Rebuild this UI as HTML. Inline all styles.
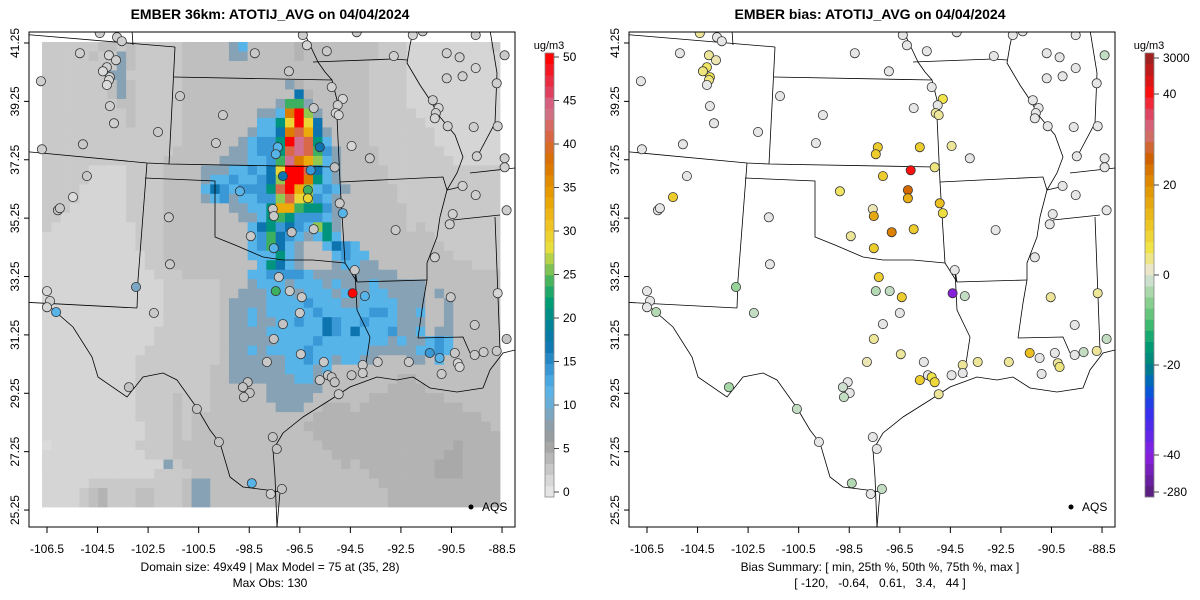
<!DOCTYPE html>
<html><head><meta charset="utf-8"><style>
html,body{margin:0;padding:0;background:#fff;width:1200px;height:600px;overflow:hidden}
svg{display:block;font-family:"Liberation Sans",Arial,sans-serif}
</style></head><body>
<svg id="chart" width="1200" height="600" viewBox="0 0 1200 600" xmlns="http://www.w3.org/2000/svg"></svg>
<script>
// ---------- data ----------
const gridSegments = [
["333333443433333","44444ab4","4444544444","444333","2222222223"],
["33333433a433333","44444aa4","4444544444","444333","2222222222"],
["33333333a433333","44444444","4444444444","443333","2222222222"],
["3333333aa333333","44444444","4444444444","443333","2222222222"],
["33333334a433333","44444444","444a544444","443333","2222222222"],
["33333334a433333","44444444","4444d54444","443333","2222222222"],
["333333334433333","44444444","44affa4444","443333","2222222222"],
["333333333433333","44444444","aabjmga444","443333","3222222222"],
["333333333433333","44444444","bbehmhd444","443333","3322222222"],
["333333333333333","4444444a","bbdjkida44","443333","3332222222"],
["333333333333333","444444ab","ccemlkeb44","443333","3332222222"],
["333333333333334","44444aab","cceklkfca4","444333","3333222222"],
["333333333333344","4444aaab","bcfljigba4","444333","3333322222"],
["333332222333344","44aaabbc","bdhmmkdba4","444433","3333333333"],
["333332222333344","44abbcbb","cdgmmjeba4","444433","3333333333"],
["333322222333344","44bdcbcc","cekmigbcba","444443","3333333333"],
["333322222333344","44abcabb","ccgkhgcba4","444443","3333333333"],
["333222222333344","44444aab","beiifeeca4","444444","3333333333"],
["332222222333344","444444aa","befecccba4","444444","3333333333"],
["322222222233344","4444444b","decdcbgea4","444444","3433333333"],
["222222222233344","4444444b","cfdcbabeb4","444444","4443333333"],
["222222222233344","4444444b","cfdba44bdc","b44444","4444333333"],
["222222222223344","4444444b","bbeba444bc","bb4444","4444433333"],
["222222222223334","44444444","bedba444ab","baa444","4444444333"],
["222222222222333","4444444b","bccccbaaaa","aaaaa4","4444444444"],
["222222222222233","3333444a","bbbabbbaba","aabaaa","aa44444444"],
["222222222222233","333344aa","abbbabbbab","aabbaa","aa4a444444"],
["222222222222233","33334aaa","abbbbcbbba","abbbba","aa44a44444"],
["222222222222233","33334aab","abbbbbcbbb","bbccba","ab44a44444"],
["222222222222233","33334aab","aabbcbbdcb","bcbbba","aa44a44444"],
["222222222222333","33334aaa","abbbbbbdcb","dbbbca","ab4aa44444"],
["222222222222333","33334aaa","aabbbbcbbb","bbbbab","aabcb44444"],
["222222222223333","33334aab","abbbbcbbbb","bbaaaa","abbcb44444"],
["222222222233333","33334aaa","aaabbcbbab","baa444","aa4b444444"],
["222222222233333","33344aaa","aaabbbab44","444444","4444444444"],
["222222222233333","33344aaa","aaaabba444","444445","5444444444"],
["222222222233333","33344444","4aaaaaa444","444455","5544444444"],
["222222222233334","33344444","4aaaaa4444","445555","5555444444"],
["222222222233334","33344444","44aaa44555","455555","5555554444"],
["222222222233334","34444444","4444445555","555555","5555555544"],
["222222222223334","34444444","4444455555","555555","5555555554"],
["222222222223334","34444444","4444445555","555555","5555555555"],
["122222222233334","44444444","4444444555","555555","5555565555"],
["222222222223334","44444444","4444444455","555555","5555665555"],
["2222222222222a3","44444444","4444444445","455555","5556665555"],
["222222222222333","34444444","4444444444","445555","5556665555"],
["222223333333333","4aa44444","4444444444","444555","5555555555"],
["222234533344333","4aa44444","4444444444","444455","5555555555"],
["222234533344333","4aa44444","4444444444","444455","5555555555"]
];
const charValues = {"1":1,"2":1.5,"3":2.5,"4":3.3,"5":4.2,"6":5,"a":8.3,"b":12,"c":14,"d":17,"e":21,"f":24,"g":26,"h":29,"i":33,"j":37,"k":41,"l":44,"m":50};
const stLon = [-104.41,-103.73,-103.54,-105.20,-104.05,-103.77,-104.13,-104.29,-104.01,-104.05,-104.13,-106.74,-98.28,-96.38,-96.22,-95.43,-94.25,-92.78,-92.03,-91.64,-90.69,-90.18,-89.54,-88.40,-89.54,-90.06,-90.69,-88.71,-96.93,-101.24,-104.01,-103.85,-102.11,-105.08,-106.70,-99.54,-95.95,-95.24,-94.80,-95.00,-95.08,-94.96,-91.24,-91.01,-91.12,-91.16,-90.65,-89.62,-88.67,-99.82,-97.37,-97.45,-95.71,-94.45,-93.73,-89.50,-88.40,-88.40,-95.12,-96.07,-97.17,-104.92,-105.47,-106.07,-105.99,-98.87,-96.18,-96.18,-97.57,-97.53,-94.92,-94.80,-90.06,-89.54,-90.45,-90.57,-88.32,-101.68,-96.82,-95.95,-92.71,-98.44,-97.53,-91.16,-101.64,-94.33,-97.33,-106.50,-106.38,-106.50,-106.14,-102.98,-102.27,-97.45,-96.90,-96.42,-94.41,-93.93,-90.53,-88.67,-96.50,-97.17,-97.53,-89.58,-88.32,-96.46,-97.80,-95.55,-94.01,-94.01,-94.45,-93.42,-92.19,-91.36,-90.97,-90.37,-90.25,-90.18,-89.58,-89.23,-88.71,-90.89,-95.71,-95.39,-95.24,-95.12,-94.96,-98.56,-98.75,-98.48,-98.71,-103.26,-100.57,-99.70,-97.57,-97.41,-98.40,-97.21,-97.65];
const stLat = [41.59,41.45,41.31,40.90,40.83,40.66,40.42,40.28,40.08,39.98,39.81,39.94,40.90,41.52,41.17,40.97,41.62,40.80,41.52,41.65,40.90,40.76,41.52,40.83,40.39,40.11,40.04,39.87,40.28,39.43,39.09,38.50,38.20,37.78,37.61,38.78,39.02,39.74,39.33,39.12,38.85,38.78,39.29,39.02,38.85,38.67,38.40,38.37,38.40,37.82,37.68,37.44,37.68,37.72,37.30,37.37,37.30,36.99,36.99,36.89,36.69,36.69,35.97,35.52,35.59,36.17,36.21,35.93,35.56,35.32,35.76,35.42,36.35,36.04,35.39,35.04,35.52,35.28,34.77,34.87,34.84,34.63,34.22,33.91,33.67,33.47,33.23,32.75,32.41,32.20,32.03,32.89,32.00,32.75,32.75,32.54,32.68,32.58,32.54,32.68,32.00,31.62,31.11,31.59,31.11,30.59,30.32,30.32,30.22,29.94,29.87,30.32,30.32,30.63,30.46,30.63,30.28,30.15,30.56,30.66,30.70,29.91,29.70,29.87,29.80,29.63,29.22,29.63,29.46,29.26,29.12,29.46,28.71,27.58,27.75,27.34,26.17,25.97,25.80];
const stObs = [2,2,2,2,1.5,2,2,1,1.5,1.5,1,2,2.5,2,1.5,2.5,2,2,1.5,2,2,2,2,2.5,1.5,2,2,2,2.5,2.5,2,2,2.5,2.5,2,2.5,2.5,2,1.5,2,1.5,1.5,2,1.5,2,1.5,2,2,2,2.5,12,12,17,1.5,2.5,2,2,2,3,14,17,2.5,1,3,2.5,12,24,29,2.5,2.5,2.5,12,2,2,2,2,2,2.5,3,2.5,2.5,2.5,12,2,2.5,2.5,2.5,1.5,2,1.5,12,9,2.5,24,2.5,2.5,50,12,2.5,1.5,2.5,3,3,2.5,3,2.5,2.5,2.5,2.5,2.5,3,2.5,2.5,14,12,2.5,1.5,1.5,2.5,2.5,2.5,2.5,2.5,2.5,3,3,2.5,3,3,3,3,3,3,3,3,3,12,3,2];
const stBias = [3,0,0,0,3,2,5,4,6,4,0,0,0,0,0,0,0,0,0,0,0,0,0,-2,0,0,0,0,0,0,0,0,0,0,0,0,0,0,6,0,3,3,0,0,0,0,0,0,0,0,10,10,10,3,0,0,0,0,4,45,10,0,10,0,0,5,25,15,2,16,12,7,0,0,0,0,0,0,22,10,0,3,10,0,0,0,10,0,0,0,-3,-5,-2,-3,-2,10,-60,-2,3,3,0,0,3,0,-2,3,2,0,3,0,0,3,3,12,0,0,3,4,0,-2,3,0,10,0,6,8,3,0,-1,0,-2,-4,-2,0,0,0,-3,-2,0];
const lonTicks = [-106.5,-104.5,-102.5,-100.5,-98.5,-96.5,-94.5,-92.5,-90.5,-88.5];
const latTicks = [41.25,39.25,37.25,35.25,33.25,31.25,29.25,27.25,25.25];
const concTicks = [0,5,10,15,20,25,30,35,40,45,50];
const biasTicks = [-280,-40,-20,0,20,40,3000];
const biasTickLabels = ["-280","-40","-20","0","20","40","3000"];

// ---------- scales ----------
const P = {x0:29,x1:515,y0:32,y1:527};
function xScale(lon,off){return off+47+(lon+106.5)*25.28;}
function yScale(lat){return 43+(41.25-lat)*29.19;}
const GX0=42,GX1=500,GY0=42,GY1=507;
const concStops=[[0,'#e6e6e6'],[2,'#cfcfcf'],[4,'#b6b6b6'],[6,'#9c9c9c'],[8,'#8ca0ae'],[10,'#6aaed6'],[12,'#56b4e9'],[14,'#3a98d6'],[17,'#0d74b0'],[20,'#00888e'],[22,'#00a070'],[24,'#3cb060'],[26,'#90c850'],[28,'#e8e040'],[31,'#f0c020'],[34,'#e8a000'],[38,'#d87000'],[41,'#d86848'],[44,'#d07090'],[46,'#e04060'],[50,'#ff0000']];
const biasStops=[[-280,'#5a2080'],[-40,'#8a20e0'],[-30,'#3030f0'],[-25,'#0060d0'],[-20,'#008080'],[-15,'#00a070'],[-10,'#50c070'],[-5,'#98d498'],[-1,'#d0e0d0'],[0,'#e6e6e6'],[2,'#ece6b4'],[6,'#f0e448'],[12,'#ecc020'],[20,'#e09000'],[26,'#d06000'],[32,'#d07080'],[36,'#e04060'],[40,'#ff1010'],[3000,'#a02020']];
function hex(c){return [1,3,5].map(i=>parseInt(c.substr(i,2),16));}
function interp(stops,v){
  if(v<=stops[0][0])return stops[0][1];
  for(let i=1;i<stops.length;i++){if(v<=stops[i][0]){const a=stops[i-1],b=stops[i];const t=(v-a[0])/(b[0]-a[0]);const ca=hex(a[1]),cb=hex(b[1]);return 'rgb('+ca.map((x,k)=>Math.round(x+(cb[k]-x)*t)).join(',')+')';}}
  return stops[stops.length-1][1];
}
function concColor(v){return interp(concStops,v);}
function biasColor(v){return interp(biasStops,v);}

// ---------- drawing ----------
const NS='http://www.w3.org/2000/svg';
const svg=document.getElementById('chart');
function el(tag,attrs,parent){const e=document.createElementNS(NS,tag);for(const k in attrs)e.setAttribute(k,attrs[k]);(parent||svg).appendChild(e);return e;}

const borders=[
[[20,34],[175,47]],[[132,30],[133,45]],[[175,47],[169,164]],[[174,77],[332,80]],
[[20,151],[147,163],[169,164],[335,167]],[[147,163],[138,280],[137,308]],
[[145,178],[215,181],[215,237],[235,245],[263,257],[283,260],[313,260],[345,263]],
[[303,30],[310,45],[318,62],[325,72],[332,80],[337,100],[337,117],[340,182],[345,263],[357,282],[355,270]],
[[340,182],[443,177],[447,190],[460,187]],[[313,62],[393,59],[407,60]],
[[413,32],[410,45],[407,63],[420,85],[430,100],[440,117],[455,135],[463,157],[457,173],[447,190],[440,217],[437,237],[427,263],[427,280],[423,303],[418,338]],
[[357,282],[427,280]],[[418,338],[463,337],[470,353]],
[[490,30],[497,73],[495,123],[477,157]],[[470,173],[515,168]],[[453,220],[500,215]],[[495,217],[497,270],[500,350]],
[[355,270],[357,310],[370,337],[365,370],[367,377]],
[[20,302],[137,308]],
[[50,307],[73,327],[92,357],[98,377],[127,397],[143,377],[163,373],[177,380],[197,408],[210,430],[220,443],[230,477],[243,487],[267,490],[280,492],[277,527]],
[[277,527],[275,477],[273,450],[283,433],[303,417],[330,400],[350,387],[377,377],[397,380],[413,377],[430,388],[457,392],[483,388],[490,370],[503,353],[515,350]]
];

function drawPanel(off,kind){
  const g=el('g',{});
  
  
  const cp=el('clipPath',{id:'clip'+kind},g);
  el('rect',{x:P.x0+off,y:P.y0,width:P.x1-P.x0,height:P.y1-P.y0},cp);
  const inner=el('g',{'clip-path':'url(#clip'+kind+')'},g);
  if(kind==='conc'){
    const cg=el('g',{},inner);
    
    
    const nR=gridSegments.length,nC=49,cw=(GX1-GX0)/nC,ch=(GY1-GY0)/nR;
    gridSegments.forEach((segs,r)=>{const row=segs.join('');for(let c=0;c<nC;c++){const v=charValues[row[c]]!==undefined?charValues[row[c]]:3;
      const cell=el('rect',{x:(GX0+c*cw+off).toFixed(2),y:(GY0+r*ch).toFixed(2),width:(cw+0.4).toFixed(2),height:(ch+0.4).toFixed(2),fill:concColor(v)},cg);
      
      }});
  }
  const bg=el('g',{fill:'none',stroke:'#000','stroke-width':'0.8'},inner);
  
  
  borders.forEach(b=>{el('polyline',{points:b.map(p=>(p[0]+off)+','+p[1]).join(' ')},bg);});
  const sg=el('g',{},inner);
  
  
  stLon.forEach((lon,i)=>{
    const fill=kind==='conc'?concColor(stObs[i]):biasColor(stBias[i]);
    const c=el('circle',{cx:xScale(lon,off).toFixed(1),cy:yScale(stLat[i]).toFixed(1),r:4.6,fill:fill,stroke:'#333','stroke-width':'0.8'},sg);
    
    
  });
  const fr=el('rect',{x:P.x0+off,y:P.y0,width:P.x1-P.x0,height:P.y1-P.y0,fill:'none',stroke:'#000','stroke-width':'1'},g);
  
  
  lonTicks.forEach(t=>{const x=xScale(t,off);
    el('line',{x1:x,x2:x,y1:P.y1,y2:P.y1+6,stroke:'#000'},g);
    const tx=el('text',{x:x,y:553,'text-anchor':'middle','font-size':'12'},g);tx.textContent=String(t);
    
    });
  el('line',{x1:xScale(lonTicks[0],off),x2:xScale(lonTicks[lonTicks.length-1],off),y1:P.y1,y2:P.y1,stroke:'#000'},g);
  latTicks.forEach(t=>{const y=yScale(t);
    el('line',{x1:P.x0+off-5,x2:P.x0+off,y1:y,y2:y,stroke:'#000'},g);
    const tx=el('text',{x:0,y:0,'text-anchor':'middle','font-size':'12',transform:'translate('+(P.x0+off-10)+','+y+') rotate(-90)'},g);tx.textContent=t.toFixed(2);
    
    });
  el('circle',{cx:471+off,cy:507,r:2.5,fill:'#000'},g);
  const lt=el('text',{x:482+off,y:511,'font-size':'12'},g);lt.textContent='AQS';
  
  
}
drawPanel(0,'conc');
drawPanel(600,'bias');

function txt(x,y,s,size,weight,name){const t=el('text',{x:x,y:y,'text-anchor':'middle','font-size':size,'font-weight':weight||'normal',style:'white-space:pre'});t.textContent=s;
  
  return t;}
txt(270,19,'EMBER 36km: ATOTIJ_AVG on 04/04/2024','14','bold','left-title');
txt(870,19,'EMBER bias: ATOTIJ_AVG on 04/04/2024','14','bold','right-title');
txt(270,571,'Domain size: 49x49 | Max Model = 75 at (35, 28)','12','normal','domain-caption');
txt(270,587,'Max Obs: 130','12','normal','max-obs-caption');
txt(880,571,'Bias Summary: [ min, 25th %, 50th %, 75th %, max ]','12','normal','bias-summary-caption');
txt(880,587,'[ -120,   -0.64,   0.61,   3.4,   44 ]','12','normal','bias-summary-values');

const CB={y0:53,y1:497};
function concY(v){return 492-(v/50)*(492-57);}
const bTickY=[492,455,365,275,185,94,58];
function biasY(v){for(let i=1;i<biasTicks.length;i++){if(v<=biasTicks[i]){const t=(v-biasTicks[i-1])/(biasTicks[i]-biasTicks[i-1]);return bTickY[i-1]+(bTickY[i]-bTickY[i-1])*t;}}return 58;}
function biasFromY(y){for(let i=1;i<bTickY.length;i++){if(y>=bTickY[i]){const t=(bTickY[i-1]-y)/(bTickY[i-1]-bTickY[i]);return biasTicks[i-1]+(biasTicks[i]-biasTicks[i-1])*t;}}return 3000;}
function drawCB(x,kind){
  const g=el('g',{});
  
  
  const n=40,h=(CB.y1-CB.y0)/n;
  for(let i=0;i<n;i++){const y=CB.y1-(i+1)*h;const ym=y+h/2;
    const col=kind==='conc'?concColor(Math.max(0,(492-ym)/(492-57)*50)):biasColor(biasFromY(ym));
    el('rect',{x:x,y:y.toFixed(2),width:9,height:(h+0.3).toFixed(2),fill:col},g);}
  el('rect',{x:x,y:CB.y0,width:9,height:CB.y1-CB.y0,fill:'none',stroke:'#888','stroke-width':'0.8'},g);
  const ticks=kind==='conc'?concTicks:biasTicks;
  ticks.forEach((t,i)=>{const y=kind==='conc'?concY(t):biasY(t);
    el('line',{x1:x+9,x2:x+14,y1:y,y2:y,stroke:'#444'},g);
    const tx=el('text',{x:x+18,y:y+4,'font-size':'12'},g);tx.textContent=kind==='conc'?String(t):biasTickLabels[i];
    
    });
  const u=el('text',{x:x+4,y:49,'text-anchor':'middle','font-size':'11'},g);u.textContent='ug/m3';
  
  
}
drawCB(545,'conc');
drawCB(1145,'bias');
</script>
</body></html>
